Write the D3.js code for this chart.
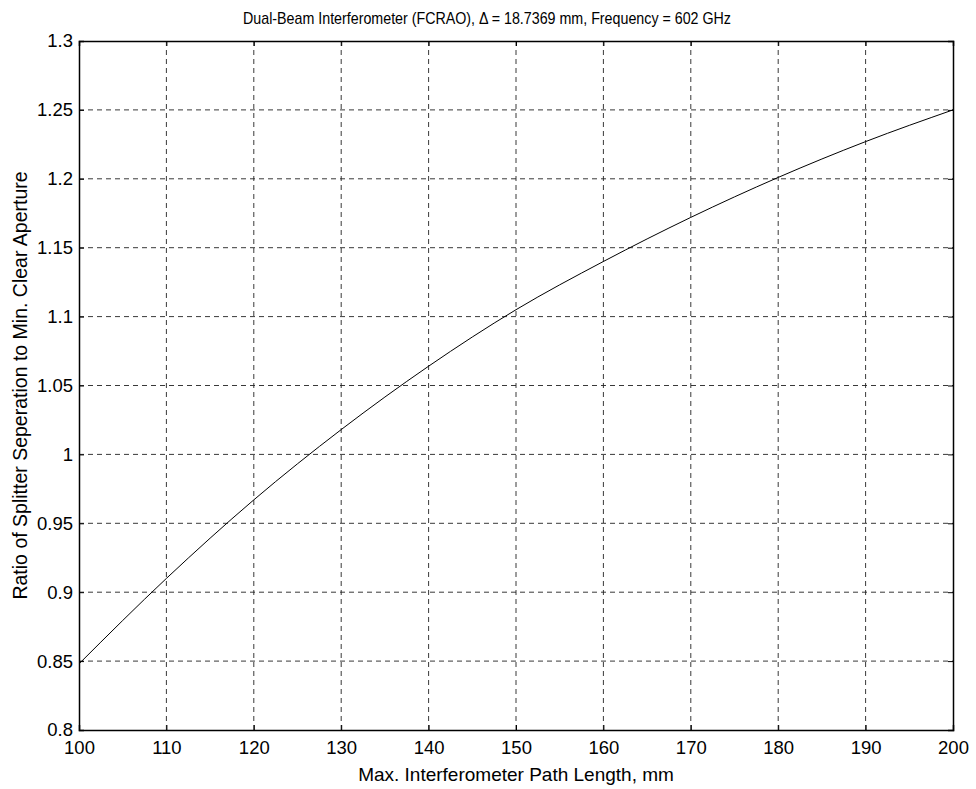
<!DOCTYPE html>
<html>
<head>
<meta charset="utf-8">
<script src="https://cdn.jsdelivr.net/npm/d3@7"></script>
<style>
  body { margin: 0; background: #fff; }
  text { font-family: "Liberation Sans", Arial, sans-serif; fill: #000; }
</style>
</head>
<body>
<script>
// path length (mm) and ratio
var pathLength = [100, 110, 120, 130, 140, 150, 160, 170, 180, 190, 200]
var ratio = [0.848, 0.910, 0.967, 1.018, 1.064, 1.105, 1.140, 1.172, 1.201, 1.227, 1.250]
var xTicks = [100, 110, 120, 130, 140, 150, 160, 170, 180, 190, 200]
var yTicks = [0.8, 0.85, 0.9, 0.95, 1, 1.05, 1.1, 1.15, 1.2, 1.25, 1.3]

var width = 976, height = 789
var margin = {top: 41, right: 23, bottom: 59, left: 79}

var svg = d3.select("body").append("svg")
    .attr("width", width)
    .attr("height", height)

var x = d3.scaleLinear().domain([100, 200]).range([margin.left, width - margin.right])
var y = d3.scaleLinear().domain([0.8, 1.3]).range([height - margin.bottom, margin.top])

// grid
svg.append("g").selectAll("line")
    .data(xTicks.slice(1, -1))
    .enter().append("line")
    .attr("x1", d => x(d)).attr("x2", d => x(d))
    .attr("y1", y(0.8)).attr("y2", y(1.3))
    .attr("stroke", "#222").attr("stroke-width", 0.9)
    .attr("stroke-dasharray", "5,4")

svg.append("g").selectAll("line")
    .data(yTicks.slice(1, -1))
    .enter().append("line")
    .attr("x1", x(100)).attr("x2", x(200))
    .attr("y1", d => y(d)).attr("y2", d => y(d))
    .attr("stroke", "#222").attr("stroke-width", 0.9)
    .attr("stroke-dasharray", "5,4")

// axes with inward ticks
var xAxis = svg.append("g")
    .attr("transform", "translate(0," + y(0.8) + ")")
    .call(d3.axisBottom(x).tickValues(xTicks).tickSize(-5).tickFormat(d3.format("d")))
var yAxis = svg.append("g")
    .attr("transform", "translate(" + x(100) + ",0)")
    .call(d3.axisLeft(y).tickValues(yTicks).tickSize(-5).tickPadding(6).tickFormat(d => String(+d.toFixed(2))))

svg.append("g")
    .attr("transform", "translate(" + x(200) + ",0)")
    .call(d3.axisRight(y).tickValues(yTicks).tickSize(-5).tickFormat(""))
svg.append("g")
    .attr("transform", "translate(0," + y(1.3) + ")")
    .call(d3.axisTop(x).tickValues(xTicks).tickSize(-5).tickFormat(""))

svg.selectAll(".domain").attr("stroke", "#000").attr("stroke-width", 1.5)
svg.selectAll(".tick line").attr("stroke", "#000")
svg.selectAll(".tick text").style("font-size", "18.5px").style("font-family", "'Liberation Sans', Arial, sans-serif")
xAxis.selectAll(".tick text").attr("y", 24).attr("dy", null)

// curve
var line = d3.line()
    .x((d, i) => x(pathLength[i]))
    .y(d => y(d))
    .curve(d3.curveMonotoneX)

svg.append("path")
    .datum(ratio)
    .attr("d", line)
    .attr("fill", "none")
    .attr("stroke", "#000")
    .attr("stroke-width", 1)

// labels
svg.append("text")
    .attr("x", 487).attr("y", 24)
    .attr("text-anchor", "middle")
    .attr("textLength", 488)
    .attr("lengthAdjust", "spacingAndGlyphs")
    .style("font-size", "17px")
    .text("Dual-Beam Interferometer (FCRAO), \u0394 = 18.7369 mm, Frequency = 602 GHz")

svg.append("text")
    .attr("x", (x(100) + x(200)) / 2).attr("y", 781)
    .attr("text-anchor", "middle")
    .style("font-size", "19px")
    .text("Max. Interferometer Path Length, mm")

svg.append("text")
    .attr("transform", "translate(27," + (y(0.8) + y(1.3)) / 2 + ") rotate(-90)")
    .attr("text-anchor", "middle")
    .style("font-size", "19.5px")
    .text("Ratio of Splitter Seperation to Min. Clear Aperture")
</script>
</body>
</html>
